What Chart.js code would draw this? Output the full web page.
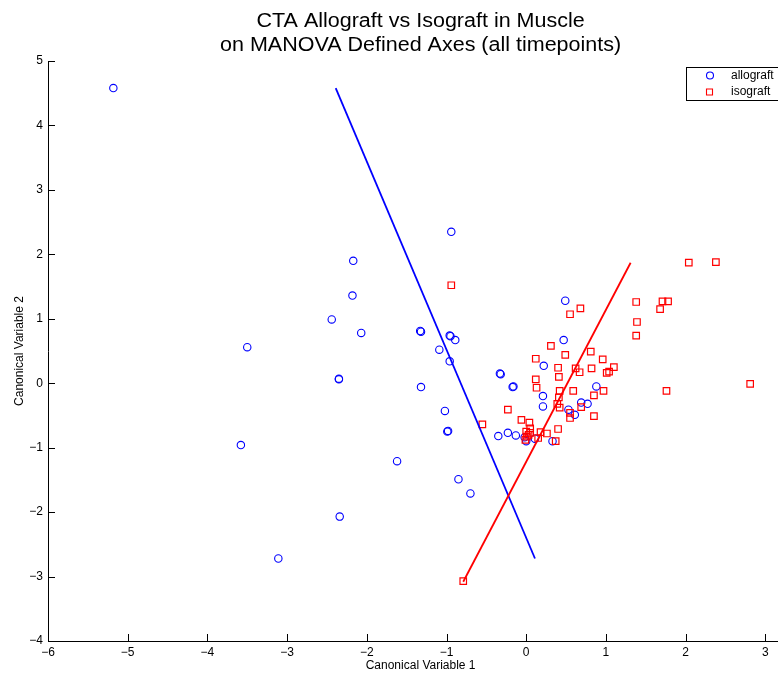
<!DOCTYPE html>
<html>
<head>
<meta charset="utf-8">
<script src="https://cdn.jsdelivr.net/npm/chart.js@4.4.1/dist/chart.umd.min.js"></script>
<style>
html,body{margin:0;padding:0;background:#fff;width:778px;height:675px;overflow:hidden}
#wrap{position:absolute;left:0;top:0;width:799px;height:675px}
</style>
</head>
<body>
<div id="wrap"><canvas id="c" width="799" height="675"></canvas></div>
<script>
const titleLines = ['CTA Allograft vs Isograft in Muscle', 'on MANOVA Defined Axes (all timepoints)'];
const xAxisTitle = 'Canonical Variable 1';
const yAxisTitle = 'Canonical Variable 2';
const seriesNames = ['allograft', 'isograft'];
const xTicks = [-6, -5, -4, -3, -2, -1, 0, 1, 2, 3];
const yTicks = [-4, -3, -2, -1, 0, 1, 2, 3, 4, 5];

const allograftX = [-5.18, -3.50, -3.58, -3.11, -2.34, -2.35, -2.35, -2.44, -2.18, -2.17, -2.07,
  -1.62, -1.33, -1.32, -1.32, -0.94, -0.96, -0.95, -0.89, -1.09, -0.96, -1.02, -0.99, -0.98,
  -0.85, -0.70, 0.49, 0.47, 0.22, -0.33, -0.32, -0.17, -0.16, 0.21, 0.21, 0.53, 0.61, 0.69,
  0.77, 0.88, -0.35, -0.23, -0.13, -0.02, 0.00, 0.11, 0.33];
const allograftY = [4.58, 0.56, -0.96, -2.72, -2.07, 0.06, 0.07, 0.99, 1.36, 1.90, 0.78,
  -1.21, 0.81, 0.80, -0.06, 2.35, 0.74, 0.73, 0.67, 0.52, 0.34, -0.43, -0.75, -0.74,
  -1.49, -1.71, 1.28, 0.67, 0.27, 0.15, 0.14, -0.06, -0.05, -0.20, -0.36, -0.41, -0.49, -0.30,
  -0.32, -0.05, -0.82, -0.77, -0.81, -0.84, -0.90, -0.86, -0.90];

const isograftX = [-0.94, 0.55, 0.68, 0.31, 0.49, 0.12, 0.81, 0.40, 0.62, 0.67, 0.82, 0.41,
  0.12, 0.13, 0.42, 0.59, 0.41, 0.39, 0.42, 0.69, 0.85, 0.85, 0.55, 0.55, -0.23, -0.55, -0.06,
  0.04, 0.05, 0.40, 0.00, 0.05, 0.01, -0.01, 0.03, 0.18, 0.26, 0.15, 0.37, 1.38, 0.96, 1.10,
  1.04, 1.01, 0.97, 1.76, 2.04, 2.38, 1.38, 1.71, 1.78, 1.68, 1.39, 2.81, -0.79];
const isograftY = [1.52, 1.07, 1.16, 0.58, 0.44, 0.38, 0.49, 0.24, 0.23, 0.17, 0.23, 0.10,
  0.06, -0.07, -0.12, -0.12, -0.22, -0.32, -0.38, -0.37, -0.19, -0.51, -0.46, -0.54, -0.41, -0.64, -0.57,
  -0.61, -0.70, -0.71, -0.75, -0.77, -0.83, -0.88, -0.80, -0.76, -0.78, -0.85, -0.90, 0.74, 0.37, 0.25,
  0.18, 0.16, -0.12, -0.12, 1.87, 1.88, 1.26, 1.27, 1.27, 1.15, 0.95, -0.01, -3.07];

const allograftLineX = [-2.39, 0.11];
const allograftLineY = [4.58, -2.72];
const isograftLineX = [-0.79, 1.31];
const isograftLineY = [-3.08, 1.87];

const BLUE = 'rgb(0,0,255)';
const RED = 'rgb(255,0,0)';
const FONT = '"Liberation Sans", Arial, Helvetica, sans-serif';

function pts(xs, ys) { return xs.map((x, i) => ({x: x, y: ys[i]})); }

const titleDraw = {
  id: 'titleDraw',
  afterDraw(chart) {
    const ctx = chart.ctx, a = chart.chartArea;
    const cx = (a.left + a.right) / 2;
    const sx = 1.075;
    ctx.save();
    ctx.font = '20px ' + FONT;
    ctx.fillStyle = '#000';
    ctx.textAlign = 'center';
    ctx.textBaseline = 'alphabetic';
    [26.5, 50.5].forEach((by, i) => {
      ctx.save();
      ctx.translate(cx, by);
      ctx.scale(sx, 1);
      ctx.fillText(titleLines[i], 0, 0);
      ctx.restore();
    });
    ctx.restore();
  }
};

const inwardTicks = {
  id: 'inwardTicks',
  afterDraw(chart) {
    const ctx = chart.ctx, a = chart.chartArea;
    const xs = chart.scales.x, ys = chart.scales.y;
    const len = 7;
    ctx.save();
    ctx.strokeStyle = '#000';
    ctx.lineWidth = 1;
    ctx.beginPath();
    xTicks.forEach(v => {
      const p = Math.round(xs.getPixelForValue(v)) + 0.5;
      ctx.moveTo(p, a.bottom); ctx.lineTo(p, a.bottom - len);
    });
    yTicks.forEach(v => {
      const p = Math.round(ys.getPixelForValue(v)) + 0.5;
      ctx.moveTo(a.left, p); ctx.lineTo(a.left + len, p);
    });
    ctx.stroke();
    ctx.restore();
  }
};

const boxLegend = {
  id: 'boxLegend',
  afterDraw(chart) {
    const ctx = chart.ctx;
    const bx = 686.5, by = 67.5, bw = 130, bh = 33;
    ctx.save();
    ctx.fillStyle = '#fff';
    ctx.fillRect(bx, by, bw, bh);
    ctx.strokeStyle = '#000';
    ctx.lineWidth = 1;
    ctx.strokeRect(bx, by, bw, bh);
    ctx.font = '12px ' + FONT;
    ctx.textBaseline = 'middle';
    ctx.textAlign = 'left';
    const items = chart.data.datasets.filter(d => d.legendEntry);
    items.forEach((d, i) => {
      const cy = 75.5 + i * 16.5;
      ctx.strokeStyle = d.borderColor;
      ctx.lineWidth = 1.1;
      ctx.beginPath();
      if (d.pointStyle === 'rect') {
        ctx.rect(706.5, cy - 3, 6, 6);
      } else {
        ctx.arc(710, cy, 3.5, 0, Math.PI * 2);
      }
      ctx.stroke();
      ctx.fillStyle = '#000';
      ctx.fillText(d.label, 731, cy);
    });
    ctx.restore();
  }
};

new Chart(document.getElementById('c'), {
  type: 'scatter',
  data: {
    datasets: [
      {label: seriesNames[0], legendEntry: true, data: pts(allograftX, allograftY), pointStyle: 'circle',
       pointRadius: 3.7, pointBorderWidth: 1.1, borderColor: BLUE, backgroundColor: 'rgba(0,0,0,0)', order: 3},
      {label: seriesNames[1], legendEntry: true, data: pts(isograftX, isograftY), pointStyle: 'rect',
       pointRadius: 4.6, pointBorderWidth: 1.2, borderColor: RED, backgroundColor: 'rgba(0,0,0,0)', order: 2},
      {label: 'allograft axis', data: pts(allograftLineX, allograftLineY), showLine: true, pointRadius: 0,
       borderColor: BLUE, borderWidth: 1.8, order: 1},
      {label: 'isograft axis', data: pts(isograftLineX, isograftLineY), showLine: true, pointRadius: 0,
       borderColor: RED, borderWidth: 1.8, order: 0}
    ]
  },
  options: {
    responsive: false,
    animation: false,
    devicePixelRatio: 1,
    layout: {padding: {top: 61, left: 0, right: 0, bottom: 0}},
    plugins: {
      legend: {display: false},
      tooltip: {enabled: false},
      title: {display: false}
    },
    scales: {
      x: {
        type: 'linear', min: -6, max: 3.35,
        afterBuildTicks: s => { s.ticks = xTicks.map(v => ({value: v})); },
        afterFit: s => { s.height = 34; s.paddingLeft = 0; s.paddingRight = 0; },
        grid: {drawOnChartArea: false, drawTicks: false},
        border: {display: true, color: '#000', width: 1},
        ticks: {color: '#000', padding: 4, maxRotation: 0, autoSkip: false,
                font: {family: FONT, size: 12},
                callback: v => String(v).replace('-', '\u2212')},
        title: {display: true, text: xAxisTitle, color: '#000', font: {family: FONT, size: 12},
                padding: {top: 0, bottom: 2}}
      },
      y: {
        type: 'linear', min: -4, max: 5,
        afterBuildTicks: s => { s.ticks = yTicks.map(v => ({value: v})); },
        afterFit: s => { s.width = 48; s.paddingTop = 0; s.paddingBottom = 0; },
        grid: {drawOnChartArea: false, drawTicks: false},
        border: {display: true, color: '#000', width: 1},
        ticks: {color: '#000', padding: 5, autoSkip: false,
                font: {family: FONT, size: 12},
                callback: v => String(v).replace('-', '\u2212')},
        title: {display: true, text: yAxisTitle, color: '#000', font: {family: FONT, size: 12},
                padding: {top: 12, bottom: 0}}
      }
    }
  },
  plugins: [titleDraw, inwardTicks, boxLegend]
});
</script>
</body>
</html>
